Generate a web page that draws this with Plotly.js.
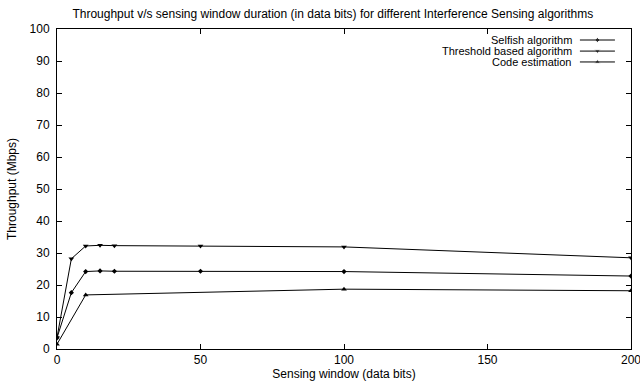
<!DOCTYPE html>
<html><head><meta charset="utf-8">
<script src="https://cdn.plot.ly/plotly-3.0.1.min.js"></script>
<style>html,body{margin:0;padding:0;background:#fff}#c{width:640px;height:385px}</style>
</head><body><div id="c"></div>
<script>
const selfishX = [0, 5, 10, 15, 20, 50, 100, 200];
const selfishY = [3.5, 17.6, 24.2, 24.4, 24.3, 24.3, 24.2, 22.8];
const thresholdX = [0, 5, 10, 15, 20, 50, 100, 200];
const thresholdY = [3.6, 28.2, 32.2, 32.4, 32.3, 32.2, 31.9, 28.5];
const codeX = [0, 10, 100, 200];
const codeY = [1.5, 16.9, 18.7, 18.2];
const seriesNames = ['Selfish algorithm', 'Threshold based algorithm', 'Code estimation'];
const symbols = ['diamond', 'triangle-down', 'triangle-up'];
const markerSizes = [4, 5, 5];

const font = {family: 'Liberation Sans, Arial, sans-serif', size: 12, color: '#000'};
const legFont = {family: 'Liberation Sans, Arial, sans-serif', size: 11, color: '#000'};
const mk = (x, y, i) => ({
  x, y, type: 'scatter', mode: 'lines+markers', name: seriesNames[i],
  line: {color: '#000', width: 1}, marker: {symbol: symbols[i], size: markerSizes[i], color: '#000'},
  showlegend: false, cliponaxis: true
});
const traces = [mk(selfishX, selfishY, 0), mk(thresholdX, thresholdY, 1), mk(codeX, codeY, 2)];

// custom gnuplot-style legend (sample on the right of text)
const legY = [0.9656, 0.931, 0.897];
const annotations = [], shapes = [];
legY.forEach((yy, i) => {
  annotations.push({xref: 'paper', yref: 'paper', x: 0.899, y: yy, xanchor: 'right', yanchor: 'middle',
    text: seriesNames[i], showarrow: false, font: legFont, borderpad: 0});
  shapes.push({type: 'line', xref: 'paper', yref: 'paper', x0: 0.911, x1: 0.972, y0: yy, y1: yy,
    line: {color: '#000', width: 1}});
});
traces.push({x: [0.9415, 0.9415, 0.9415], y: legY, xaxis: 'x2', yaxis: 'y2', type: 'scatter', mode: 'markers',
  marker: {symbol: symbols, size: markerSizes, color: '#000'}, showlegend: false, hoverinfo: 'skip'});

const axCommon = {showline: true, linecolor: '#000', linewidth: 1, mirror: 'ticks', ticks: 'inside',
  ticklen: 5, tickcolor: '#000', showgrid: false, zeroline: false, tickfont: font,
  ticklabeloverflow: 'allow'};
const layout = {
  width: 640, height: 385, paper_bgcolor: '#fff', plot_bgcolor: '#fff',
  margin: {l: 57, r: 9, t: 29, b: 36},
  title: {text: 'Throughput v/s sensing window duration (in data bits) for different Interference Sensing algorithms',
    font, x: 0.52, xanchor: 'center', y: 0.963, yanchor: 'middle'},
  xaxis: Object.assign({}, axCommon, {range: [0, 200], tickvals: [0, 50, 100, 150, 200],
    title: {text: 'Sensing window (data bits)', font, standoff: 3}}),
  yaxis: Object.assign({}, axCommon, {range: [0, 100], tickvals: [0,10,20,30,40,50,60,70,80,90,100],
    ticklabelstandoff: 4,
    title: {text: 'Throughput (Mbps)', font, standoff: 10}}),
  xaxis2: {overlaying: 'x', range: [0, 1], visible: false, anchor: 'y2'},
  yaxis2: {overlaying: 'y', range: [0, 1], visible: false, anchor: 'x2'},
  annotations, shapes, showlegend: false
};
Plotly.newPlot('c', traces, layout, {staticPlot: true});
</script></body></html>
